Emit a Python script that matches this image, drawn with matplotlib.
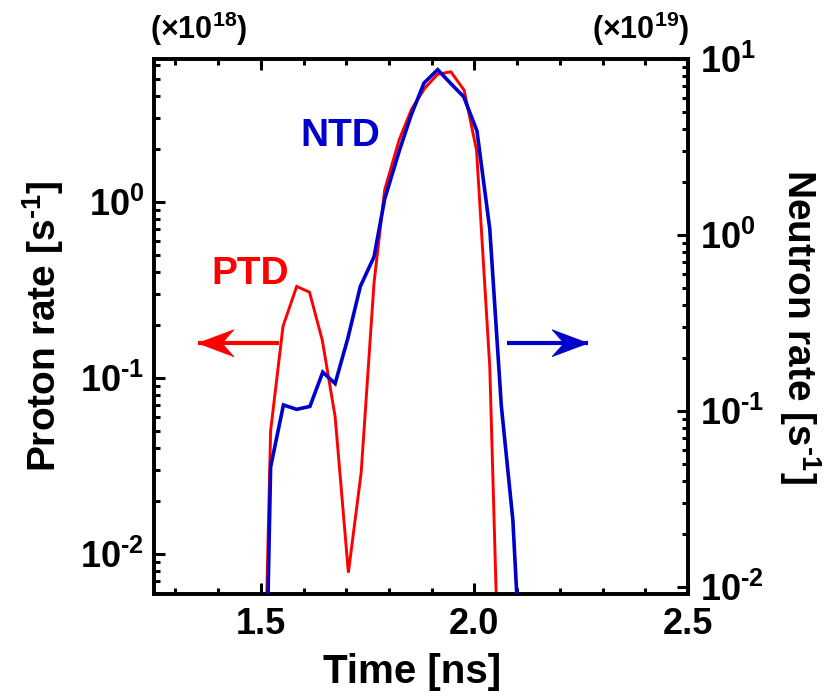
import matplotlib
matplotlib.use("Agg")
import matplotlib.pyplot as plt
import matplotlib.transforms as mtransforms
from matplotlib.ticker import FixedLocator, FixedFormatter, MultipleLocator, LogLocator, NullFormatter
from matplotlib.patches import Polygon

# ---------------- data ----------------
t_ptd = [1.491, 1.523, 1.552, 1.584, 1.614, 1.644, 1.674, 1.705, 1.735, 1.765,
         1.790, 1.824, 1.853, 1.884, 1.914, 1.945, 1.976, 2.005, 2.036, 2.066]
ptd_rate = [2.5e-5, 0.050, 0.196, 0.330, 0.306, 0.163, 0.060, 0.0078, 0.029, 0.345,
            1.17, 2.25, 3.36, 4.42, 5.30, 5.47, 4.30, 1.96, 0.115, 3e-4]

t_ntd = [1.491, 1.523, 1.553, 1.584, 1.615, 1.645, 1.674, 1.704, 1.733, 1.765,
         1.790, 1.825, 1.852, 1.882, 1.914, 1.946, 1.975, 2.006, 2.036, 2.063,
         2.090, 2.120]
ntd_rate = [7e-6, 0.048, 0.108, 0.102, 0.106, 0.166, 0.143, 0.26, 0.51, 0.75,
            1.60, 3.05, 4.80, 7.30, 8.70, 7.20, 6.10, 3.90, 1.08, 0.107,
            0.024, 1e-3]

x_major = [1.5, 2.0, 2.5]
x_labels = ["1.5", "2.0", "2.5"]
left_major = [1e-2, 1e-1, 1e0]
left_labels = [r"$10^{\text{-}2}$", r"$10^{\text{-}1}$", r"$10^{0}$"]
right_major = [1e-2, 1e-1, 1e0, 1e1]
right_labels = [r"$10^{\text{-}2}$", r"$10^{\text{-}1}$", r"$10^{0}$", r"$10^{1}$"]

RED = "#FF0000"
BLUE = "#0000CC"

plt.rcParams["font.family"] = ["Liberation Sans", "DejaVu Sans"]
plt.rcParams["font.weight"] = "bold"
plt.rcParams["mathtext.fontset"] = "custom"
plt.rcParams["mathtext.rm"] = "Liberation Sans:bold"
plt.rcParams["mathtext.bf"] = "Liberation Sans:bold"
plt.rcParams["mathtext.it"] = "Liberation Sans:bold:italic"
plt.rcParams["mathtext.default"] = "rm"

fig = plt.figure(figsize=(8.33, 6.96), dpi=100)
W, H = 833, 696
ax = fig.add_axes([154 / W, 1 - 594 / H, 534 / W, 535 / H])
ax2 = ax.twinx()

ax.plot(t_ptd, ptd_rate, color=RED, lw=2.1, solid_joinstyle="miter", zorder=3)
ax2.plot(t_ntd, ntd_rate, color=BLUE, lw=2.6, solid_joinstyle="miter", zorder=3)

ax.set_xlim(1.25, 2.5)
ax.set_yscale("log")
ax.set_ylim(0.0059, 6.47)
ax2.set_yscale("log")
ax2.set_ylim(0.0091, 10)

ax.xaxis.set_major_locator(FixedLocator(x_major))
ax.xaxis.set_major_formatter(FixedFormatter(x_labels))
ax.xaxis.set_minor_locator(MultipleLocator(0.1))

ax.yaxis.set_major_locator(FixedLocator(left_major))
ax.yaxis.set_major_formatter(FixedFormatter(left_labels))
ax.yaxis.set_minor_locator(LogLocator(base=10, subs=range(2, 10)))
ax.yaxis.set_minor_formatter(NullFormatter())

ax2.yaxis.set_major_locator(FixedLocator(right_major))
ax2.yaxis.set_major_formatter(FixedFormatter(right_labels))
ax2.yaxis.set_minor_locator(LogLocator(base=10, subs=range(2, 10)))
ax2.yaxis.set_minor_formatter(NullFormatter())

ax.tick_params(axis="x", which="both", direction="in", top=True, bottom=True,
               width=2.2, labelsize=26, pad=9)
ax.tick_params(axis="x", which="major", length=8)
ax.tick_params(axis="x", which="minor", length=4)
ax.tick_params(axis="y", which="both", direction="in", left=True, right=False,
               width=2.2, labelsize=26, pad=7)
ax.tick_params(axis="y", which="major", length=8)
ax.tick_params(axis="y", which="minor", length=4.5)
ax2.tick_params(axis="y", which="both", direction="in", right=True, left=False,
                width=2.2, labelsize=26, pad=9)
ax2.tick_params(axis="y", which="major", length=8)
ax2.tick_params(axis="y", which="minor", length=4.5)

for a in (ax, ax2):
    for s in a.spines.values():
        s.set_linewidth(2.6)

ax.set_xlabel("Time [ns]", fontsize=29, fontweight="bold", labelpad=8)
ax.xaxis.label.set_x(0.483)
ax.set_ylabel(r"Proton rate [s$^{\text{-}1}$]", fontsize=28, fontweight="bold")
ax.yaxis.set_label_coords(-0.165, 0.5)
ax2.set_ylabel(r"Neutron rate [s$^{\text{-}1}$]", fontsize=28, fontweight="bold",
               rotation=270)
ax2.yaxis.label.set_verticalalignment("bottom")
ax2.yaxis.set_label_coords(1.167, 0.5)

ax.text(-0.008, 1.02, r"(×10$^{18}$)", transform=ax.transAxes, ha="left",
        va="bottom", fontsize=22, fontweight="bold")
ax.text(1.003, 1.02, r"(×10$^{19}$)", transform=ax.transAxes, ha="right",
        va="bottom", fontsize=22, fontweight="bold")

ax.text(1.475, 0.39, "PTD", color=RED, fontsize=28, fontweight="bold",
        ha="center", va="center", zorder=5)
ax.text(1.685, 2.36, "NTD", color=BLUE, fontsize=28, fontweight="bold",
        ha="center", va="center", zorder=5)


def arrow(a, tail, tip, y, color):
    a.plot([tail, tip], [y, y], color=color, lw=3.0, solid_capstyle="butt", zorder=4)
    d = 1 if tail > tip else -1
    L, hw, notch = 0.36, 0.135, 0.24
    verts = [(0, 0), (d * L, hw), (d * notch, 0), (d * L, -hw)]
    tr = fig.dpi_scale_trans + mtransforms.ScaledTranslation(tip, y, a.transData)
    a.add_patch(Polygon(verts, closed=True, facecolor=color, edgecolor=color,
                        lw=0.5, transform=tr, zorder=5))


arrow(ax, 1.543, 1.353, 0.157, RED)
arrow(ax, 2.076, 2.266, 0.157, BLUE)

fig.savefig("out.png", dpi=100)
